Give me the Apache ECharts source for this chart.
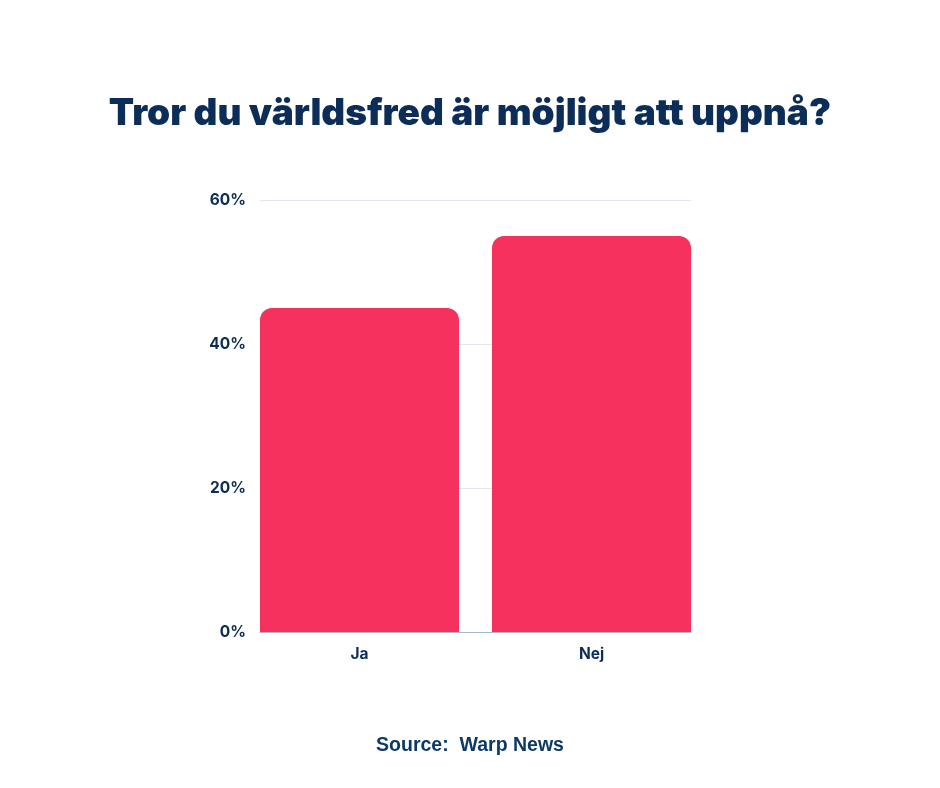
<!DOCTYPE html>
<html><head><meta charset="utf-8">
<script src="https://cdn.jsdelivr.net/npm/echarts@6/dist/echarts.min.js"></script>
<style>html,body{margin:0;padding:0;background:#fff}#c{width:940px;height:788px}</style>
</head><body><div id="c"></div>
<script>
const categories = ["Ja", "Nej"];
const values = [45, 55];
const yTicks = [0, 20, 40, 60];
const titleText = "Tror du världsfred är möjligt att uppnå?";
const sourceText = "Source:  Warp News";

const navy = '#0c2d57';
const chart = echarts.init(document.getElementById('c'), null, {renderer: 'canvas'});
chart.setOption({
  backgroundColor: '#ffffff',
  title: [{
    text: titleText, left: 'center', top: 90,
    textStyle: {fontFamily: 'Inter', fontWeight: 900, fontSize: 37, color: navy}
  }, {
    text: sourceText, left: 'center', top: 731,
    textStyle: {fontFamily: 'Liberation Sans', fontWeight: 'bold', fontSize: 19.5, color: '#0c3a66'}
  }],
  grid: [
    {left: 260, right: 249, top: 200, bottom: 156},
    {left: 243.5, right: 232.5, top: 200, bottom: 156}
  ],
  xAxis: [{
    gridIndex: 0, type: 'category', data: categories,
    axisLine: {lineStyle: {color: '#a9b8c8', width: 1}},
    axisTick: {show: false}, axisLabel: {show: false}
  }, {
    gridIndex: 1, type: 'category', data: categories,
    axisLine: {show: false},
    axisTick: {show: false},
    axisLabel: {fontFamily: 'Inter', fontWeight: 'bold', fontSize: 15.5, color: navy, margin: 14}
  }],
  yAxis: [{
    gridIndex: 0, type: 'value', min: yTicks[0], max: yTicks[yTicks.length - 1], interval: 20,
    axisLine: {show: false}, axisTick: {show: false},
    splitLine: {lineStyle: {color: '#e3e6ee', width: 1}},
    axisLabel: {fontFamily: 'Inter', fontWeight: 'bold', fontSize: 15.5, color: navy, margin: 14,
      formatter: v => v + '%'}
  }, {
    gridIndex: 1, type: 'value', min: yTicks[0], max: yTicks[yTicks.length - 1], interval: 20,
    show: false
  }],
  series: [{
    type: 'bar', data: values, xAxisIndex: 1, yAxisIndex: 1, barWidth: 199,
    itemStyle: {color: '#f5325e', borderRadius: [12, 12, 0, 0]},
    z: 3
  }],
  animation: false
});
</script></body></html>
